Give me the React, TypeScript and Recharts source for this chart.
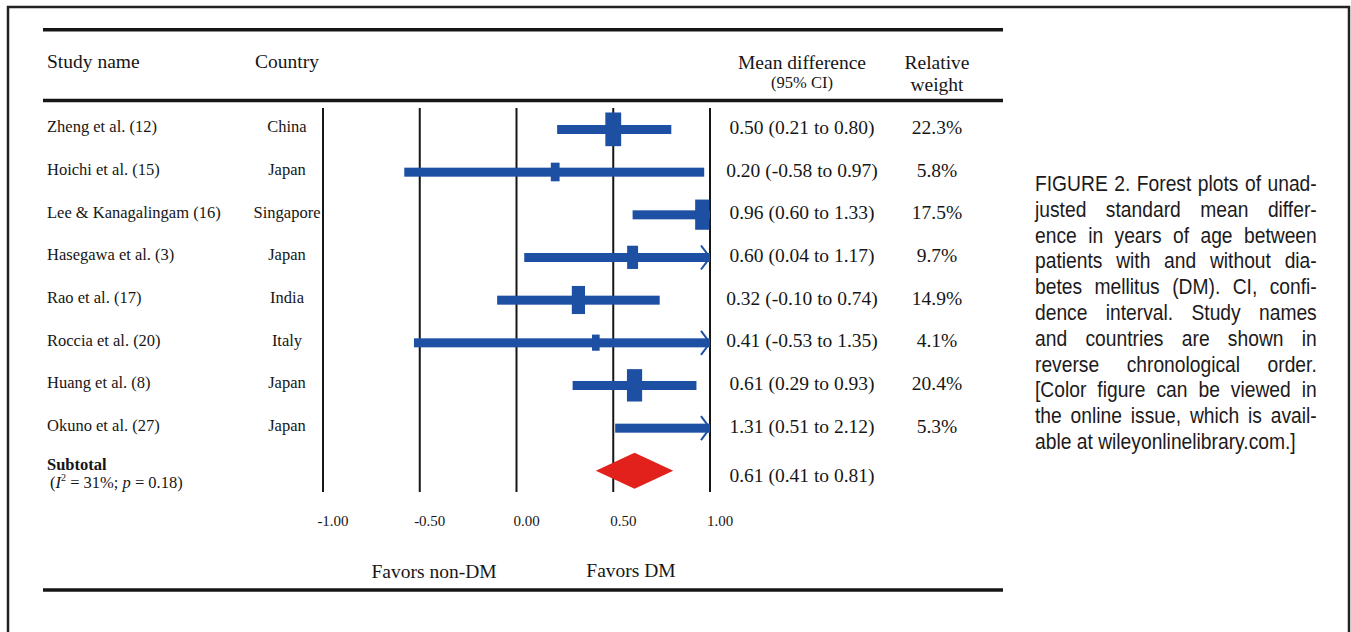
import React from 'react';
import { ComposedChart, Bar, Scatter, XAxis, YAxis, CartesianGrid } from 'recharts';

// Study rows, top to bottom
const studies = [
  'Zheng et al. (12)', 'Hoichi et al. (15)', 'Lee & Kanagalingam (16)', 'Hasegawa et al. (3)',
  'Rao et al. (17)', 'Roccia et al. (20)', 'Huang et al. (8)', 'Okuno et al. (27)',
];
const countries = ['China', 'Japan', 'Singapore', 'Japan', 'India', 'Italy', 'Japan', 'Japan'];
const meanDiff = [0.50, 0.20, 0.96, 0.60, 0.32, 0.41, 0.61, 1.31];
const ciLow = [0.21, -0.58, 0.60, 0.04, -0.10, -0.53, 0.29, 0.51];
const ciHigh = [0.80, 0.97, 1.33, 1.17, 0.74, 1.35, 0.93, 2.12];
const relWeight = [22.3, 5.8, 17.5, 9.7, 14.9, 4.1, 20.4, 5.3];

// Pooled estimate and heterogeneity
const subtotal = { est: 0.61, low: 0.41, high: 0.81 };
const heterogeneity = { i2: 31, p: 0.18 };

const xTicks = [-1, -0.5, 0, 0.5, 1];
const X_MIN = -1;
const X_MAX = 1;

const captionLines = [
  'FIGURE 2. Forest plots of unad-',
  'justed standard mean differ-',
  'ence in years of age between',
  'patients with and without dia-',
  'betes mellitus (DM). CI, confi-',
  'dence interval. Study names',
  'and countries are shown in',
  'reverse chronological order.',
  '[Color figure can be viewed in',
  'the online issue, which is avail-',
  'able at wileyonlinelibrary.com.]',
];

const BLUE = '#1d4fa3';
const RED = '#e3211c';
const INK = '#161616';
const SERIF = '"Liberation Serif", "Times New Roman", serif';

const rows: any[] = studies.map((name, i) => ({
  name,
  country: countries[i],
  est: meanDiff[i],
  low: ciLow[i],
  high: ciHigh[i],
  weight: relWeight[i],
  // CI drawn only inside the axis range; an arrow marks the cut end
  ci: [Math.max(ciLow[i], X_MIN), Math.min(ciHigh[i], X_MAX)],
  clipped: ciHigh[i] > X_MAX,
}));
rows.push({
  name: 'Subtotal',
  est: subtotal.est,
  low: subtotal.low,
  high: subtotal.high,
  ci: [subtotal.low, subtotal.high],
  pooled: true,
});

const fmt = (v: number) => v.toFixed(2);

const CiShape = (props: any) => {
  const { x, y, width, height, payload } = props;
  const cy = y + height / 2;
  if (payload.pooled) {
    const half = 18;
    const mid = x + width / 2;
    return (
      <polygon
        points={`${x},${cy} ${mid},${cy - half} ${x + width},${cy} ${mid},${cy + half}`}
        fill={RED}
      />
    );
  }
  const right = x + width;
  return (
    <g>
      <rect x={x} y={y} width={width} height={height} fill={BLUE} />
      {payload.clipped && (
        <polyline
          points={`${right - 9},${cy - 12} ${right},${cy} ${right - 9},${cy + 12}`}
          fill="none" stroke={BLUE} strokeWidth={2}
        />
      )}
    </g>
  );
};

// box height grows with the study weight
const WeightBox = (props: any) => {
  const { cx, cy, payload } = props;
  if (payload.pooled || payload.est > X_MAX || cx == null) return <g />;
  const h = 6.5 * Math.sqrt(payload.weight) + 3;
  const w = h * 0.47;
  return <rect x={cx - w / 2} y={cy - h / 2} width={w} height={h} fill={BLUE} />;
};

const RowTick = (props: any) => {
  const { y, payload } = props;
  const row = rows.find(r => r.name === payload.value);
  if (!row) return <g />;
  const ciText = `${fmt(row.est)} (${fmt(row.low)} to ${fmt(row.high)})`;
  if (row.pooled) {
    return (
      <g fill={INK} style={{ fontFamily: SERIF }}>
        <text x={47} y={y - 1} fontSize={16.5} fontWeight="bold">Subtotal</text>
        <text x={50} y={y + 17} fontSize={16.5}>
          (<tspan fontStyle="italic">I</tspan>
          <tspan fontSize={10} dy={-7}>2</tspan>
          <tspan dy={7}>{` = ${heterogeneity.i2}%; `}</tspan>
          <tspan fontStyle="italic">p</tspan>
          {` = ${heterogeneity.p.toFixed(2)})`}
        </text>
        <text x={802} y={y + 11} fontSize={19.5} textAnchor="middle">{ciText}</text>
      </g>
    );
  }
  return (
    <g fill={INK} style={{ fontFamily: SERIF }}>
      <text x={47} y={y + 3} fontSize={16.5}>{row.name}</text>
      <text x={287} y={y + 3} fontSize={16.5} textAnchor="middle">{row.country}</text>
      <text x={802} y={y + 4.5} fontSize={19.5} textAnchor="middle">{ciText}</text>
      <text x={937} y={y + 4.5} fontSize={19.5} textAnchor="middle">{`${row.weight.toFixed(1)}%`}</text>
    </g>
  );
};

const XTick = (props: any) => {
  const { x, y, payload } = props;
  return (
    <text x={x + 10} y={y + 26} textAnchor="middle" fontSize={15} fill={INK} style={{ fontFamily: SERIF }}>
      {fmt(payload.value)}
    </text>
  );
};

const Frame = () => (
  <svg width={1351} height={632} style={{ position: 'absolute', left: 0, top: 0, pointerEvents: 'none' }}>
    <rect x={8} y={7} width={1341} height={640} fill="none" stroke="#222" strokeWidth={2.5} />
    <line x1={43} x2={1003} y1={29.7} y2={29.7} stroke={INK} strokeWidth={3.5} />
    <line x1={43} x2={1003} y1={100.5} y2={100.5} stroke={INK} strokeWidth={3.5} />
    <line x1={43} x2={1003} y1={590} y2={590} stroke={INK} strokeWidth={3.5} />
    <g fill={INK} style={{ fontFamily: SERIF }} fontSize={19.5}>
      <text x={47} y={68}>Study name</text>
      <text x={287} y={68} textAnchor="middle">Country</text>
      <text x={802} y={69} textAnchor="middle">Mean difference</text>
      <text x={802} y={88} textAnchor="middle" fontSize={16.5}>(95% CI)</text>
      <text x={937} y={69} textAnchor="middle">Relative</text>
      <text x={937} y={91} textAnchor="middle">weight</text>
      <text x={434} y={578} textAnchor="middle">Favors non-DM</text>
      <text x={631} y={577} textAnchor="middle">Favors DM</text>
    </g>
  </svg>
);

const Caption = () => (
  <div
    style={{
      position: 'absolute', left: 1035, top: 171, width: 322,
      transform: 'scaleX(0.875)', transformOrigin: 'left top',
      fontFamily: '"Liberation Sans", Arial, sans-serif', fontSize: 22, lineHeight: '25.8px', color: '#1c1a1b',
    }}
  >
    {captionLines.map((line, i) => (
      <div
        key={i}
        style={{
          textAlign: 'justify',
          textAlignLast: i === captionLines.length - 1 ? 'left' : 'justify',
        } as React.CSSProperties}
      >
        {line}
      </div>
    ))}
  </div>
);

export default function App() {
  return (
    <div style={{ position: 'absolute', left: 0, top: 0, width: 1351, height: 632, background: '#fff' }}>
      <ComposedChart
        width={1351}
        height={632}
        layout="vertical"
        data={rows}
        margin={{ top: 108, right: 641, bottom: 110, left: 8 }}
      >
        <CartesianGrid horizontal={false} stroke={INK} strokeWidth={2} />
        <XAxis
          type="number"
          domain={[X_MIN, X_MAX]}
          ticks={xTicks}
          interval={0}
          allowDataOverflow
          axisLine={false}
          tickLine={false}
          height={30}
          tick={(p: any) => <XTick {...p} />}
        />
        <YAxis
          type="category"
          dataKey="name"
          width={315}
          interval={0}
          axisLine={false}
          tickLine={false}
          tick={(p: any) => <RowTick {...p} />}
        />
        <Bar dataKey="ci" barSize={9} shape={CiShape} isAnimationActive={false} />
        <Scatter dataKey="est" shape={WeightBox} isAnimationActive={false} />
      </ComposedChart>
      <Frame />
      <Caption />
    </div>
  );
}
